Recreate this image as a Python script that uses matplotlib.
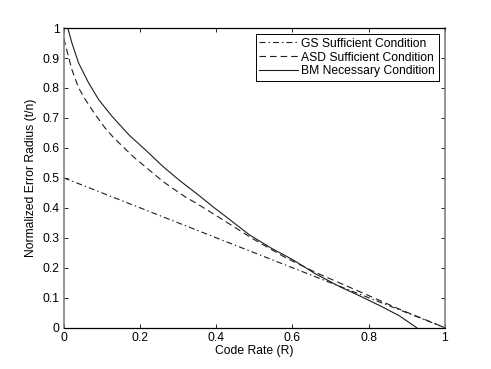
import matplotlib
matplotlib.use('Agg')
import matplotlib.pyplot as plt

# GS sufficient condition (dash-dot)
gs_r = [0.0, 0.2, 0.4, 0.5, 0.6, 0.8, 1.0]
gs_t = [0.5, 0.4, 0.3, 0.25, 0.2, 0.1, 0.0]

# ASD sufficient condition (dashed)
asd_r = [0.0, 0.005, 0.021, 0.0385, 0.056, 0.082, 0.108, 0.13, 0.182, 0.261,
         0.318, 0.348, 0.405, 0.497, 0.58, 0.663, 0.777, 0.882, 1.0]
asd_t = [0.965, 0.94, 0.862, 0.801, 0.762, 0.712, 0.667, 0.635, 0.571, 0.487,
         0.437, 0.415, 0.37, 0.296, 0.235, 0.183, 0.12, 0.061, 0.0]

# BM necessary condition (solid)
bm_r = [0.0105, 0.021, 0.0385, 0.065, 0.091, 0.126, 0.172, 0.217, 0.261, 0.305,
        0.348, 0.39, 0.431, 0.488, 0.545, 0.602, 0.66, 0.724, 0.78, 0.838,
        0.88, 0.926]
bm_t = [1.0, 0.951, 0.884, 0.817, 0.762, 0.706, 0.642, 0.59, 0.537, 0.49,
        0.448, 0.405, 0.365, 0.309, 0.265, 0.226, 0.18, 0.137, 0.104, 0.068,
        0.04, 0.0]

labels = ['GS Sufficient Condition', 'ASD Sufficient Condition', 'BM Necessary Condition']
xticks = [0, 0.2, 0.4, 0.6, 0.8, 1]
xticklabels = ['0', '0.2', '0.4', '0.6', '0.8', '1']
yticks = [0, 0.1, 0.2, 0.3, 0.4, 0.5, 0.6, 0.7, 0.8, 0.9, 1]
yticklabels = ['0', '0.1', '0.2', '0.3', '0.4', '0.5', '0.6', '0.7', '0.8', '0.9', '1']

plt.rcParams['font.family'] = ['Liberation Sans', 'DejaVu Sans']
plt.rcParams['font.size'] = 8.7

fig = plt.figure(figsize=(4.91, 3.69), dpi=100)
ax = fig.add_axes([0.13, 0.112, 0.776, 0.812])

lc = '#1e1e1e'
ax.plot(gs_r, gs_t, color=lc, lw=0.8, dashes=(5.4, 2.7, 1.3, 2.7), label=labels[0])
ax.plot(asd_r, asd_t, color=lc, lw=0.8, dashes=(5.9, 3.6), label=labels[1])
ax.plot(bm_r, bm_t, color=lc, lw=0.8, label=labels[2])

ax.set_xlim(0, 1)
ax.set_ylim(0, 1)
ax.set_xticks(xticks)
ax.set_xticklabels(xticklabels)
ax.set_yticks(yticks)
ax.set_yticklabels(yticklabels)
ax.tick_params(direction='in', length=3, width=0.6, top=True, right=True, pad=3)
for s in ['top', 'bottom']:
    ax.spines[s].set_color('black')
    ax.spines[s].set_linewidth(0.9)
for s in ['left', 'right']:
    ax.spines[s].set_color('#777777')
    ax.spines[s].set_linewidth(1.1)

ax.set_xlabel('Code Rate (R)', labelpad=1)
ax.set_ylabel('Normalized Error Radius (t/n)', labelpad=4)

leg = ax.legend(loc='upper right', fancybox=False, framealpha=1, edgecolor='black',
                borderpad=0.3, labelspacing=0.15, handlelength=3.2, handletextpad=0.3,
                borderaxespad=0.5)
leg.get_frame().set_linewidth(0.7)

fig.savefig('out.png', dpi=100)
